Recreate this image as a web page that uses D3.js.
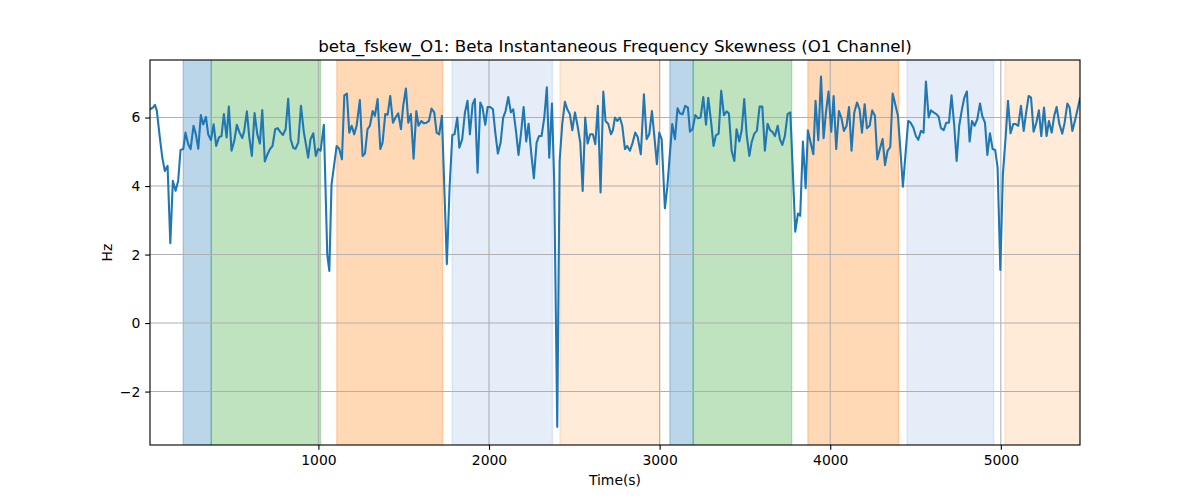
<!DOCTYPE html>
<html><head><meta charset="utf-8">
<script src="https://cdn.jsdelivr.net/npm/d3@7"></script>
<style>body{margin:0;background:#fff} svg{display:block} text{font-family:"DejaVu Sans",sans-serif;fill:#000}</style>
</head><body><svg id="c" width="1200" height="500"></svg>
<script>
// ---- data ----
const times = [
13,30,42,53,71,85,100,116,132,147,163,178,192,208,221,237,251,268,282,296,311,325,341,354,370,386,401,417,432,446,462,475,491,507,522,538,554,565,581,595,610,626,642,657,671,686,702,716,731,747,761,776,792,808,823,837,853,866,882,898,
915,927,940,954,970,985,999,1013,1032,1052,1064,1077,1093,1107,1122,1138,1152,1167,1181,1195,1210,1224,1243,1259,1273,1288,1302,1318,1331,1347,1363,1376,1392,1406,1421,1437,1452,1468,1484,1497,1513,1527,1542,1558,1574,1587,1603,1619,1634,1648,1663,1679,1693,1708,1724,1753,1769,1785,1798,1814,
1826,1843,1859,1874,1888,1904,1917,1933,1949,1962,1978,1992,2007,2023,2037,2052,2068,2083,2097,2113,2128,2142,2158,2173,2187,2203,2218,2232,2248,2263,2279,2293,2308,2324,2339,2353,2369,2382,2400,2414,2429,2445,2459,2474,2488,2504,2519,2535,2549,2564,2578,2593,2609,2623,2638,2654,2670,2683,2699,2715,
2726,2738,2752,2767,2781,2797,2810,2826,2842,2857,2871,2890,2908,2924,2939,2955,2969,2984,2998,3012,3031,3045,3060,3074,3090,3105,3119,3135,3150,3166,3178,3193,3209,3225,3240,3256,3272,3285,3301,3316,3330,3346,3361,3377,3393,3406,3422,3438,3451,3467,3481,3496,3510,3526,3539,3555,3570,3586,3602,
3617,3633,3647,3660,3676,3692,3705,3719,3734,3750,3766,3779,3795,3811,3824,3840,3856,3869,3885,3901,3914,3930,3946,3961,3975,3990,4006,4020,4035,4051,4065,4080,4096,4110,4125,4141,4157,4172,4186,4202,4215,4231,4246,4262,4276,4291,4307,4321,4336,4352,4366,4381,4397,4413,4426,4442,4457,4471,4487,4502,4516,4532,4547,
4561,4577,4590,4606,4622,4635,4649,4665,4680,4696,4711,4727,4741,4756,4772,4786,4801,4817,4831,4846,4862,4878,4891,4907,4921,4936,4952,4967,4981,4997,5012,5028,5042,5057,5073,5087,5102,5118,5134,5147,5163,5177,5192,5208,5223,5237,5253,5268,5282,5298,5313,5327,5343,5360,5374,5390,5403,5419,5434,5450,5464
];
const values = [
6.24,6.29,6.37,6.2,5.4,4.83,4.44,4.59,2.33,4.15,3.86,4.15,5.05,5.08,5.56,5.22,5.08,5.76,5.51,5.09,6.07,5.8,6.02,5.51,5.34,5.8,5.17,5.42,5.46,6.1,5.42,6.32,5.03,5.32,5.79,5.56,5.4,5.61,6.18,5.42,4.88,6.13,5.51,5.24,6.22,4.72,4.93,5.08,5.17,5.66,5.69,5.58,5.49,5.66,6.55,5.37,5.11,5.09,5.27,6.34,
5.56,5.22,4.83,5.37,5.54,4.88,5.09,5.03,5.79,2.0,1.52,4.05,4.64,5.17,5.09,4.78,6.65,6.7,5.56,5.76,5.51,5.76,6.51,4.88,4.95,5.66,5.76,6.19,6.05,6.54,5.08,5.27,6.1,6.08,6.63,5.85,6.0,6.12,5.66,6.34,6.85,5.85,6.1,4.8,6.19,5.76,5.9,5.83,5.85,5.9,6.26,6.15,5.56,5.51,6.05,1.72,3.96,5.49,5.51,6.0,
5.12,5.37,6.15,6.49,5.51,6.39,6.54,4.39,6.44,6.29,5.79,6.31,6.31,6.24,5.56,4.95,5.27,6.0,6.19,6.6,6.15,6.24,5.61,4.91,5.51,6.31,5.3,5.82,4.93,4.23,5.27,5.46,5.46,6.0,6.88,4.83,6.41,4.15,-3.03,4.73,5.8,6.46,6.24,6.1,5.63,6.15,5.76,5.27,3.86,6.0,5.24,5.51,5.51,5.22,6.34,3.81,6.76,5.9,5.81,5.51,
5.63,6.0,5.9,6.0,5.76,5.08,5.17,5.03,5.27,5.56,5.44,4.93,6.68,5.37,5.51,6.19,5.46,4.64,5.56,5.37,3.35,3.96,4.93,5.81,5.37,6.27,6.12,6.1,6.34,6.29,5.59,5.66,6.07,5.98,6.0,6.6,5.79,6.58,5.9,5.17,5.48,5.53,6.78,6.07,6.18,6.12,5.03,4.73,5.66,5.3,5.63,6.54,5.51,4.88,5.27,5.53,5.61,6.32,6.32,
5.03,5.82,5.63,5.59,5.46,5.76,5.37,5.2,5.46,6.1,6.15,4.64,2.67,3.2,3.13,5.3,3.94,5.63,5.27,4.93,6.49,5.34,7.2,5.4,6.15,6.76,5.59,6.63,5.08,6.19,6.0,5.61,5.76,6.31,5.03,6.15,6.44,6.24,5.56,6.39,5.69,5.76,6.21,6.05,4.78,5.08,5.37,4.61,5.03,5.14,6.7,6.39,6.05,4.93,3.98,4.98,5.9,5.85,5.71,5.46,5.35,5.61,5.56,
7.05,6.0,6.21,6.15,6.1,6.03,5.69,5.63,5.85,5.85,6.65,5.76,4.73,5.76,6.24,6.58,6.76,5.3,5.9,5.76,5.95,6.41,6.05,5.85,4.91,5.54,5.08,5.05,4.54,1.55,4.35,5.42,6.49,5.54,5.81,5.81,5.76,6.34,5.61,6.1,6.63,6.58,5.59,5.85,6.21,5.46,6.29,5.46,5.9,5.56,6.05,6.31,5.81,5.53,5.85,6.41,6.29,5.61,5.9,6.24,6.56
];
const bandStarts = [208, 372, 1108, 1784, 2416, 3060, 3197, 3869, 4450, 5024];
const bandEnds   = [372, 1012, 1728, 2372, 3002, 3197, 3774, 4401, 4958, 5464];
const bandKinds  = ["A","B","C","D","E","A","B","C","D","E"];
const xTicks = [1000, 2000, 3000, 4000, 5000];
const yTicks = [-2, 0, 2, 4, 6];
const xDomain = [13, 5464];
const yDomain = [-3.56, 7.68];
const titleText = "beta_fskew_O1: Beta Instantaneous Frequency Skewness (O1 Channel)";
const xLabel = "Time(s)";
const yLabel = "Hz";

// ---- drawing ----
const W = 1200, H = 500;
const pt = 100/72;
const m = {l:150, r:120, t:60, b:55};
const svg = d3.select("#c");
const x = d3.scaleLinear().domain(xDomain).range([m.l, W - m.r]);
const y = d3.scaleLinear().domain(yDomain).range([H - m.b, m.t]);
const kindStyle = {
  A: {c:"#1f77b4", a:0.3},
  B: {c:"#2ca02c", a:0.3},
  C: {c:"#ff7f0e", a:0.3},
  D: {c:"#5b8fd6", a:0.16},
  E: {c:"#ff9a3c", a:0.2}
};
svg.append("defs").append("clipPath").attr("id","clip")
  .append("rect").attr("x", m.l).attr("y", m.t).attr("width", W-m.l-m.r).attr("height", H-m.t-m.b);

const bands = bandStarts.map((s,i)=>({s, e:bandEnds[i], k:bandKinds[i]}));
const gb = svg.append("g").attr("clip-path","url(#clip)");
gb.selectAll("rect").data(bands).join("rect")
  .attr("x", d=>x(d.s)).attr("width", d=>x(d.e)-x(d.s))
  .attr("y", m.t).attr("height", H-m.t-m.b)
  .attr("fill", d=>kindStyle[d.k].c).attr("fill-opacity", d=>kindStyle[d.k].a);
gb.selectAll("line.edge").data(bands.flatMap(d=>[{v:d.s,k:d.k},{v:d.e,k:d.k}])).join("line")
  .attr("class","edge")
  .attr("x1", d=>x(d.v)).attr("x2", d=>x(d.v)).attr("y1", m.t).attr("y2", H-m.b)
  .attr("stroke", d=>kindStyle[d.k].c).attr("stroke-opacity", d=>kindStyle[d.k].a).attr("stroke-width", pt);

// grid
const gg = svg.append("g");
gg.selectAll("line.gx").data(xTicks).join("line").attr("class","gx")
  .attr("x1", d=>x(d)).attr("x2", d=>x(d)).attr("y1", m.t).attr("y2", H-m.b)
  .attr("stroke","#b0b0b0").attr("stroke-width",0.8*pt);
gg.selectAll("line.gy").data(yTicks).join("line").attr("class","gy")
  .attr("y1", d=>y(d)).attr("y2", d=>y(d)).attr("x1", m.l).attr("x2", W-m.r)
  .attr("stroke","#b0b0b0").attr("stroke-width",0.8*pt);

// line
const pts = times.map((t,i)=>[t, values[i]]);
svg.append("path").datum(pts).attr("clip-path","url(#clip)")
  .attr("fill","none").attr("stroke","#1f77b4").attr("stroke-width",1.5*pt)
  .attr("stroke-linejoin","round").attr("stroke-linecap","square")
  .attr("d", d3.line().x(d=>x(d[0])).y(d=>y(d[1])));

// axes
const fmtY = d => d < 0 ? "\u2212" + Math.abs(d) : String(d);
const ax = svg.append("g").attr("transform", `translate(0,${H-m.b})`)
  .call(d3.axisBottom(x).tickValues(xTicks).tickSize(3.5*pt).tickPadding(3.5*pt).tickFormat(d3.format("d")));
const ay = svg.append("g").attr("transform", `translate(${m.l},0)`)
  .call(d3.axisLeft(y).tickValues(yTicks).tickSize(3.5*pt).tickPadding(3.5*pt).tickFormat(fmtY));
[ax, ay].forEach(g=>{
  g.select(".domain").remove();
  g.selectAll(".tick line").attr("stroke","#000").attr("stroke-width",0.8*pt);
  g.selectAll(".tick text").attr("font-size","13.9px").attr("font-family","DejaVu Sans").attr("fill","#000");
});
// spines
svg.append("rect").attr("x", m.l).attr("y", m.t).attr("width", W-m.l-m.r).attr("height", H-m.t-m.b)
  .attr("fill","none").attr("stroke","#000").attr("stroke-width",0.8*pt);

svg.append("text").attr("x", (m.l + W - m.r)/2).attr("y", 51.5).attr("text-anchor","middle")
  .attr("font-size","16.7px").text(titleText);
svg.append("text").attr("x", (m.l + W - m.r)/2).attr("y", 485).attr("text-anchor","middle")
  .attr("font-size","13.9px").text(xLabel);
svg.append("text").attr("transform", `translate(112,${(m.t + H - m.b)/2}) rotate(-90)`).attr("text-anchor","middle")
  .attr("font-size","13.9px").text(yLabel);
</script></body></html>
